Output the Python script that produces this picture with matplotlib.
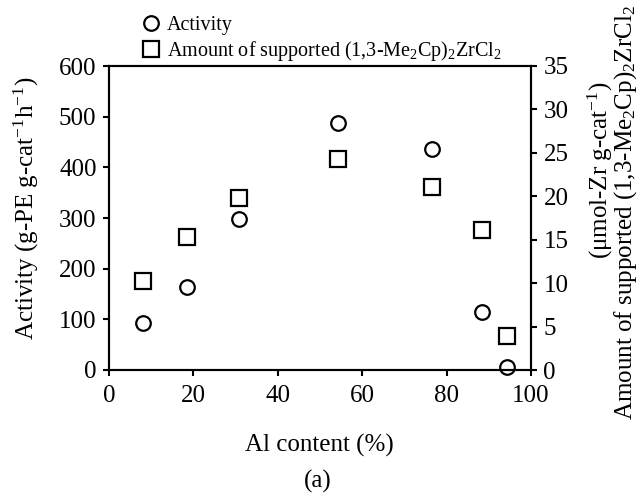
import matplotlib
matplotlib.use("Agg")
import matplotlib.pyplot as plt
from matplotlib.lines import Line2D

plt.rcParams['font.family'] = ['Liberation Serif', 'DejaVu Serif']
plt.rcParams['mathtext.fontset'] = 'custom'
plt.rcParams['mathtext.rm'] = 'Liberation Serif'
plt.rcParams['mathtext.it'] = 'Liberation Serif:italic'
plt.rcParams['mathtext.bf'] = 'Liberation Serif:bold'

# Data
al_content = [8.1, 18.4, 30.8, 54.3, 76.5, 88.4, 94.2]
activity = [92, 163, 299, 487, 436, 115, 6]
amount = [10.2, 15.3, 19.8, 24.3, 21.1, 16.1, 3.9]

x_ticks = [0, 20, 40, 60, 80, 100]
y1_ticks = [0, 100, 200, 300, 400, 500, 600]
y2_ticks = [0, 5, 10, 15, 20, 25, 30, 35]

W, H = 638, 494
fig = plt.figure(figsize=(W / 100, H / 100), dpi=100)
ax = fig.add_axes([109 / W, 1 - 370 / H, (531 - 109) / W, (370 - 66) / H])
ax2 = ax.twinx()

fs = 18
ax.plot(al_content, activity, linestyle='none', marker='o', markersize=10.5,
        markerfacecolor='none', markeredgecolor='black', markeredgewidth=1.6, clip_on=False, zorder=5)
ax2.plot(al_content, amount, linestyle='none', marker='s', markersize=11,
         markerfacecolor='none', markeredgecolor='black', markeredgewidth=1.6, clip_on=False, zorder=5)

ax.set_xlim(0, 100)
ax.set_ylim(0, 600)
ax2.set_ylim(0, 35)
ax.set_xticks(x_ticks)
ax.set_yticks(y1_ticks)
ax2.set_yticks(y2_ticks)

for a in (ax, ax2):
    for s in a.spines.values():
        s.set_linewidth(1.5)
    a.tick_params(direction='out', length=4, width=1.5, labelsize=fs, pad=5)

ax.tick_params(axis='x', pad=7)

fig.text(26 / W, 1 - 208 / H, r'Activity (g-PE g-cat$^{-1}$h$^{-1}$)', rotation=90,
         ha='center', va='center', fontsize=fs)
fig.text(632 / W, 1 - 212 / H, r'Amount of supported (1,3-Me$_2$Cp)$_2$ZrCl$_2$', rotation=90,
         rotation_mode='anchor', ha='center', va='baseline', fontsize=fs)
fig.text(608 / W, 1 - 170 / H, r'($\mathrm{\mu}$mol-Zr g-cat$^{-1}$)', rotation=90,
         rotation_mode='anchor', ha='center', va='baseline', fontsize=fs)

fig.text(319 / W, 1 - 445 / H, 'Al content (%)', ha='center', va='center', fontsize=fs)
fig.text(318 / W, 1 - 481 / H, '(a)', ha='center', va='center', fontsize=fs)

handles = [
    Line2D([], [], linestyle='none', marker='o', markersize=10.5, markerfacecolor='none',
           markeredgecolor='black', markeredgewidth=1.6),
    Line2D([], [], linestyle='none', marker='s', markersize=11.5, markerfacecolor='none',
           markeredgecolor='black', markeredgewidth=1.6),
]
labels = ['Activity', r'Amount of supported (1,3-Me$_2$Cp)$_2$ZrCl$_2$']
fig.legend(handles, labels, loc='upper left', bbox_to_anchor=(143 / W, 1 - 16 / H),
           frameon=False, fontsize=14.5, handlelength=0.8, handletextpad=0.4,
           labelspacing=0.2, borderpad=0, borderaxespad=0)

fig.savefig('out.png', dpi=100)
